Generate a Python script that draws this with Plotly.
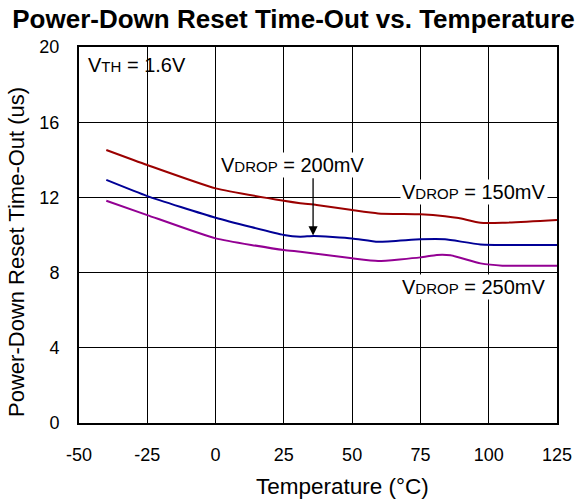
import plotly.graph_objects as go

temp_150 = [-40, -25, 0, 25, 31, 37, 50, 59.5, 75, 84, 89, 97, 105, 125]
val_150 = [14.52, 13.72, 12.48, 11.82, 11.69, 11.6, 11.33, 11.15, 11.1, 11.0, 10.9, 10.65, 10.65, 10.8]

temp_200 = [-40, -25, 0, 25, 31, 36, 50, 59.5, 75, 84, 97, 125]
val_200 = [12.93, 12.07, 10.92, 10.0, 9.91, 9.95, 9.82, 9.64, 9.77, 9.77, 9.5, 9.47]

temp_250 = [-40, -25, 0, 25, 31, 50, 59.5, 75, 81, 86, 97, 105, 125]
val_250 = [11.82, 11.06, 9.82, 9.2, 9.11, 8.76, 8.62, 8.81, 8.94, 8.92, 8.49, 8.37, 8.37]

x_ticks = [-50, -25, 0, 25, 50, 75, 100, 125]
x_labels = ["-50", "-25", "0", "25", "50", "75", "100", "125"]
y_ticks = [0, 4, 8, 12, 16, 20]

FONT = "Liberation Sans, Arial, sans-serif"

fig = go.Figure()
fig.add_trace(go.Scatter(x=temp_150, y=val_150, mode="lines", line=dict(color="#9b0000", width=2, shape="spline", smoothing=0.5), name="150mV"))
fig.add_trace(go.Scatter(x=temp_200, y=val_200, mode="lines", line=dict(color="#000096", width=2, shape="spline", smoothing=0.5), name="200mV"))
fig.add_trace(go.Scatter(x=temp_250, y=val_250, mode="lines", line=dict(color="#930093", width=2, shape="spline", smoothing=0.5), name="250mV"))

axis_common = dict(showgrid=True, gridcolor="black", gridwidth=1, showline=True, linecolor="black",
                   linewidth=2, mirror=True, zeroline=False, ticks="", automargin=False,
                   tickfont=dict(size=18, color="black", family=FONT))

fig.update_xaxes(range=[-50, 125], tickvals=x_ticks, ticktext=x_labels, ticklabelstandoff=14, **axis_common)
fig.update_yaxes(range=[0, 20], tickvals=y_ticks, ticklabelstandoff=14, **axis_common)

def vlabel(main, sub, rest):
    return f"{main}<span style='font-size:15px'>{sub}</span> = {rest}"

ann_font = dict(size=20, color="black", family=FONT)
fig.add_annotation(x=-47.3, y=19.04, xref="x", yref="y", text=vlabel("V", "TH", "1.6V"), showarrow=False,
                   xanchor="left", yanchor="middle", font=ann_font)
fig.add_annotation(x=28.3, y=13.75, xref="x", yref="y", text=vlabel("V", "DROP", "200mV"), showarrow=False,
                   xanchor="center", yanchor="middle", font=ann_font, bgcolor="white")
fig.add_annotation(x=35.7, y=9.98, ax=35.7, ay=13.1, xref="x", yref="y", axref="x", ayref="y", text="",
                   showarrow=True, arrowhead=2, arrowsize=1.4, arrowwidth=1.3, arrowcolor="black")
fig.add_annotation(x=94.5, y=12.3, xref="x", yref="y", text=vlabel("V", "DROP", "150mV"), showarrow=False,
                   xanchor="center", yanchor="middle", font=ann_font, bgcolor="white")
fig.add_annotation(x=94.5, y=7.25, xref="x", yref="y", text=vlabel("V", "DROP", "250mV"), showarrow=False,
                   xanchor="center", yanchor="middle", font=ann_font, bgcolor="white")

# axis titles
fig.add_annotation(x=-0.1297, y=0.455, xref="paper", yref="paper", text="Power-Down Reset Time-Out (us)",
                   showarrow=False, textangle=-90, xanchor="center", yanchor="middle",
                   font=dict(size=22, color="black", family=FONT))
fig.add_annotation(x=0.552, y=-0.170, xref="paper", yref="paper", text="Temperature (°C)",
                   showarrow=False, xanchor="center", yanchor="middle",
                   font=dict(size=22.5, color="black", family=FONT))

fig.update_layout(
    width=575, height=502,
    margin=dict(l=79, r=18, t=47, b=79, autoexpand=False),
    paper_bgcolor="white", plot_bgcolor="white",
    showlegend=False,
    title=dict(text="<b>Power-Down Reset Time-Out vs. Temperature</b>", x=293.5 / 575, xanchor="center",
               y=1 - 19 / 502, yanchor="middle", automargin=False,
               font=dict(size=26, color="black", family=FONT)),
)

fig.write_html("out.html", config={"displayModeBar": False},
               post_script="document.body.style.margin='0';document.body.style.overflow='hidden';")
